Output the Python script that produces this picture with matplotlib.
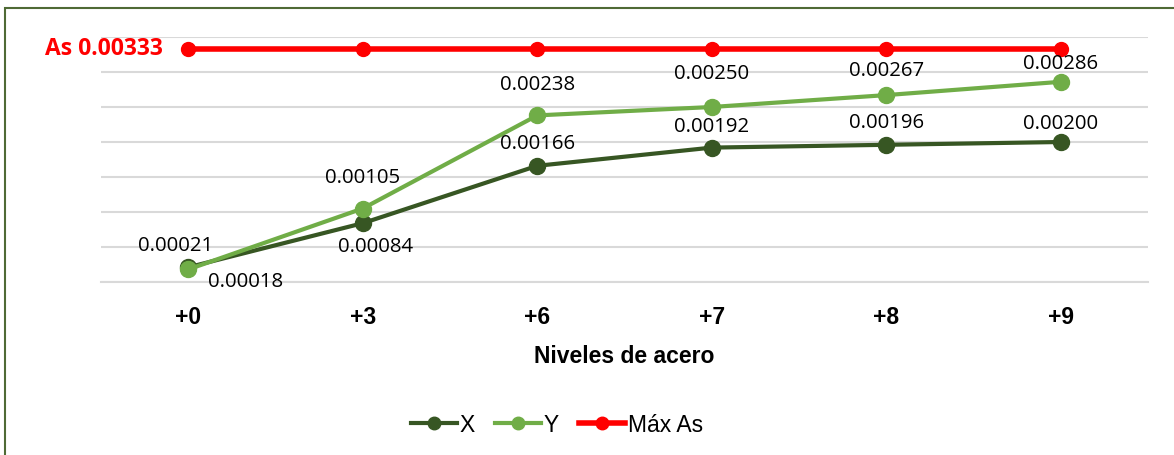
import matplotlib
matplotlib.use("Agg")
import matplotlib.pyplot as plt
from matplotlib.patches import Rectangle
from matplotlib.lines import Line2D

# Data
niveles = ["+0", "+3", "+6", "+7", "+8", "+9"]
serie_x = [0.00021, 0.00084, 0.00166, 0.00192, 0.00196, 0.00200]
serie_y = [0.00018, 0.00105, 0.00238, 0.00250, 0.00267, 0.00286]
max_as = [0.00333, 0.00333, 0.00333, 0.00333, 0.00333, 0.00333]

# Label offsets in points (layout only)
off_x = [(-9, 15), (9, -17), (0, 16), (0, 15), (0, 16), (0, 13)]
off_y = [(41, -9), (0, 22), (0, 22), (0, 24), (0, 17), (0, 13)]

c_x = "#375623"
c_y = "#70AD47"
c_max = "#FF0000"

fig = plt.figure(figsize=(11.74, 4.55), dpi=100)
ax = fig.add_axes([101 / 1174, 1 - 282 / 455, (1148 - 101) / 1174, (282 - 37) / 455])

pos = list(range(len(niveles)))
ax.plot(pos, serie_x, color=c_x, lw=3, marker="o", ms=11.5, zorder=3)
ax.plot(pos, serie_y, color=c_y, lw=3, marker="o", ms=11.5, zorder=4)
ax.plot(pos, max_as, color=c_max, lw=4, marker="o", ms=10, zorder=5)

lab_font = dict(family="Open Sans", size=14.7, color="#000000")
for i, v in enumerate(serie_x):
    ax.annotate(f"{v:.5f}", (pos[i], v), xytext=off_x[i], textcoords="offset points",
                ha="center", va="center", zorder=6, **lab_font)
for i, v in enumerate(serie_y):
    ax.annotate(f"{v:.5f}", (pos[i], v), xytext=off_y[i], textcoords="offset points",
                ha="center", va="center", zorder=6, **lab_font)

ax.annotate(f"As {max_as[0]:.5f}", (pos[0], max_as[0]), xytext=(-18, 0),
            textcoords="offset points", ha="right", va="center",
            family="Open Sans", weight="bold", size=16.5, color=c_max)

ax.set_xlim(-0.5, len(niveles) - 0.5)
ax.set_ylim(0, 0.0035)
ax.set_yticks([i * 0.0005 for i in range(8)])
ax.yaxis.grid(True, color="#D9D9D9", lw=1.5)
ax.set_axisbelow(True)
ax.tick_params(axis="y", left=False, labelleft=False)
ax.tick_params(axis="x", length=0, pad=17)
ax.set_xticks(pos)
ax.set_xticklabels(niveles, fontsize=16.5, fontweight="bold", family="Liberation Sans")
for s in ["left", "right", "top"]:
    ax.spines[s].set_visible(False)
ax.spines["bottom"].set_color("#D9D9D9")
ax.spines["bottom"].set_linewidth(1.5)
ax.set_xlabel("Niveles de acero", fontsize=16.5, fontweight="bold",
              family="Liberation Sans", labelpad=12)

handles = [
    Line2D([], [], color=c_x, lw=3, marker="o", ms=9, label="X"),
    Line2D([], [], color=c_y, lw=3, marker="o", ms=9, label="Y"),
    Line2D([], [], color=c_max, lw=4, marker="o", ms=9, label="Máx As"),
]
fig.legend(handles=handles, loc="center", bbox_to_anchor=(557 / 1174, 1 - 425 / 455),
           ncol=3, frameon=False, prop=dict(family="Liberation Sans", size=16.5),
           handlelength=2.0, handletextpad=0.1, columnspacing=0.9)

# Chart border
fig.patches.append(Rectangle((5 / 1174, -0.01), 1.02, 1 - 8 / 455 + 0.01,
                             transform=fig.transFigure, fill=False,
                             edgecolor="#4F6A35", lw=1.5, clip_on=False))

fig.savefig("out.png", dpi=100)
